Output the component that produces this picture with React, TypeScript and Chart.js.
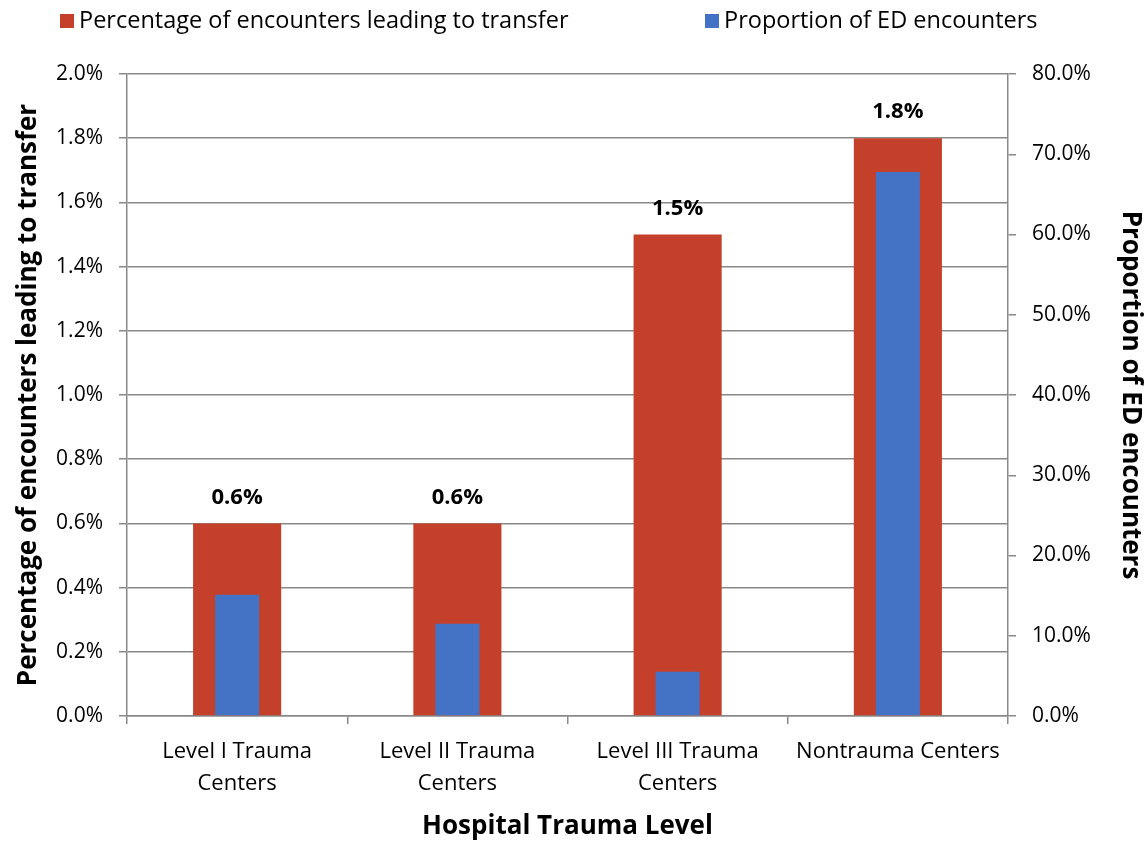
import React, { useEffect, useRef } from "react";
import { Chart, registerables } from "chart.js";

Chart.register(...registerables);

const categories: string[][] = [
  ["Level I Trauma", "Centers"],
  ["Level II Trauma", "Centers"],
  ["Level III Trauma", "Centers"],
  ["Nontrauma Centers"],
];
const transferPct = [0.6, 0.6, 1.5, 1.8];
const edProportion = [15.1, 11.5, 5.5, 67.8];
const leftTicks = [0, 0.2, 0.4, 0.6, 0.8, 1.0, 1.2, 1.4, 1.6, 1.8, 2.0];
const rightTicks = [0, 10, 20, 30, 40, 50, 60, 70, 80];
const seriesNames = ["Percentage of encounters leading to transfer", "Proportion of ED encounters"];

const FONT = "'Open Sans', sans-serif";
const RED = "#C5402A";
const BLUE = "#4472C4";
const GRID = "#898989";

const labelPlugin = {
  id: "barLabels",
  afterDatasetsDraw(chart: any) {
    const ctx = chart.ctx;
    const meta = chart.getDatasetMeta(0);
    ctx.save();
    ctx.font = `bold 22px ${FONT}`;
    ctx.fillStyle = "#000";
    ctx.textAlign = "center";
    ctx.textBaseline = "middle";
    meta.data.forEach((bar: any, i: number) => {
      ctx.fillText(transferPct[i].toFixed(1) + "%", bar.x, bar.y - 26);
    });
    ctx.restore();
  },
};

const legendPlugin = {
  id: "customLegend",
  afterDraw(chart: any) {
    const ctx = chart.ctx;
    const items = [
      { x: 60, size: 14, color: RED, text: seriesNames[0] },
      { x: 705, size: 14, color: BLUE, text: seriesNames[1] },
    ];
    ctx.save();
    ctx.font = `23.5px ${FONT}`;
    ctx.textBaseline = "middle";
    ctx.textAlign = "left";
    items.forEach((it) => {
      ctx.fillStyle = it.color;
      ctx.fillRect(it.x, 21 - it.size / 2, it.size, it.size);
      ctx.fillStyle = "#000";
      ctx.fillText(it.text, it.x + it.size + 5, 21);
    });
    ctx.restore();
  },
};

export default function App() {
  const ref = useRef<HTMLCanvasElement>(null);
  useEffect(() => {
    document.body.style.margin = "0";
    const chart = new Chart(ref.current!, {
      type: "bar",
      data: {
        labels: categories,
        datasets: [
          {
            label: seriesNames[0],
            data: transferPct,
            backgroundColor: RED,
            yAxisID: "y",
            grouped: false,
            barPercentage: 0.4,
            categoryPercentage: 1,
            order: 2,
          },
          {
            label: seriesNames[1],
            data: edProportion,
            backgroundColor: BLUE,
            yAxisID: "y1",
            grouped: false,
            barPercentage: 0.2,
            categoryPercentage: 1,
            order: 1,
          },
        ],
      },
      options: {
        animation: false,
        responsive: false,
        maintainAspectRatio: false,
        layout: { padding: { top: 74, left: 0, right: 0, bottom: 0 } },
        plugins: {
          tooltip: { enabled: false },
          legend: { display: false },
        },
        scales: {
          x: {
            grid: {
              display: true,
              drawOnChartArea: false,
              offset: true,
              color: GRID,
              tickLength: 8,
              lineWidth: 1.5,
            },
            border: { color: GRID, width: 1.5 },
            ticks: {
              font: { family: FONT, size: 22, lineHeight: 1.45 },
              color: "#000",
              maxRotation: 0,
              padding: 12,
            },
            title: {
              display: true,
              text: "Hospital Trauma Level",
              font: { family: FONT, size: 26, weight: "bold" },
              color: "#000",
              padding: { top: 0, bottom: 0 },
            },
            afterFit: (s: any) => {
              s.height = 126;
            },
          },
          y: {
            position: "left",
            min: 0,
            max: 2,
            afterBuildTicks: (s: any) => {
              s.ticks = leftTicks.map((v) => ({ value: v }));
            },
            grid: { color: GRID, lineWidth: 1.5, tickLength: 8 },
            border: { color: GRID, width: 1.5 },
            ticks: {
              font: { family: FONT, size: 21 },
              color: "#000",
              padding: 16,
              callback: (v: any) => Number(v).toFixed(1) + "%",
            },
            title: {
              display: true,
              text: "Percentage of encounters leading to transfer",
              font: { family: FONT, size: 26, weight: "bold" },
              color: "#000",
              padding: { top: 13, bottom: 0 },
            },
            afterFit: (s: any) => {
              s.width = 127;
            },
          },
          y1: {
            position: "right",
            min: 0,
            max: 80,
            afterBuildTicks: (s: any) => {
              s.ticks = rightTicks.map((v) => ({ value: v }));
            },
            grid: { drawOnChartArea: false, color: GRID, tickLength: 8, lineWidth: 1.5 },
            border: { color: GRID, width: 1.5 },
            ticks: {
              font: { family: FONT, size: 21 },
              color: "#000",
              padding: 16,
              callback: (v: any) => Number(v).toFixed(1) + "%",
            },
            title: {
              display: true,
              text: "Proportion of ED encounters",
              font: { family: FONT, size: 26, weight: "bold" },
              color: "#000",
              padding: { top: 0, bottom: 2 },
            },
            afterFit: (s: any) => {
              s.width = 138;
            },
          },
        },
      },
      plugins: [labelPlugin, legendPlugin],
    } as any);
    return () => chart.destroy();
  }, []);
  return (
    <div style={{ position: "absolute", left: 0, top: 0, width: 1146, height: 842 }}>
      <canvas ref={ref} width={1146} height={842} />
    </div>
  );
}
